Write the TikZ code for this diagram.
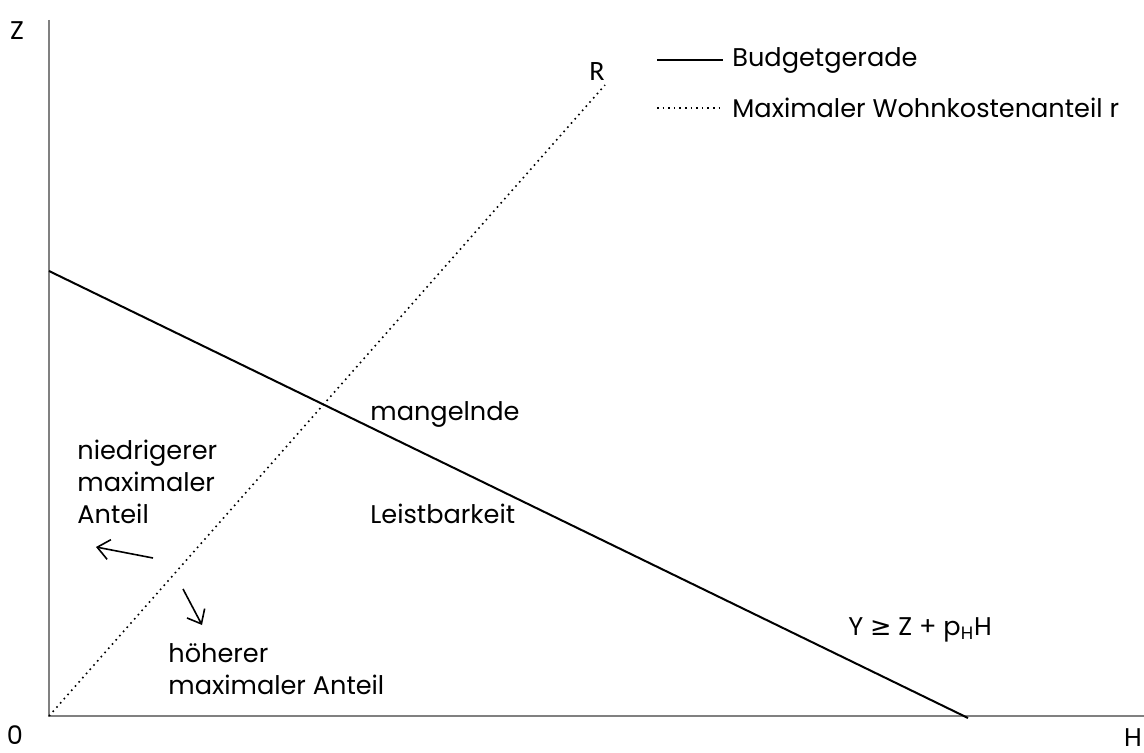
\documentclass[tikz,border=0pt]{standalone}
\usepackage{fontspec}
\setmainfont{Poppins}
\newfontfamily\calib{Carlito}
\newfontfamily\dejavu{DejaVu Sans}
\usetikzlibrary{arrows.meta}
\begin{document}
\begin{tikzpicture}[x=0.5pt,y=-0.5pt,
  lbl/.style={font=\fontsize{12.8}{16}\selectfont, inner sep=0pt},
  axis/.style={draw=gray, line width=1pt},
  budget/.style={draw=black, line width=1pt},
  share/.style={draw=black, line width=0.8pt, dotted},
  arr/.style={draw=black, line width=0.8pt, -{Straight Barb[length=6pt,width=10pt]}}]
\useasboundingbox (0,0) rectangle (1144,753);
% axes
\coordinate (O) at (49,716);
\coordinate (ytop) at (49,20);
\coordinate (xend) at (1144,716);
\draw[axis] (ytop) -- (O) -- (xend);
% lines
\coordinate (b1) at (49,271);
\coordinate (b2) at (968,718);
\draw[budget] (b1) -- (b2);
\coordinate (r1) at (49,716);
\coordinate (r2) at (605,85);
\draw[share] (r1) -- (r2);
% axis labels
\node[lbl, anchor=center] (zl) at (17,31) {Z};
\node[lbl, anchor=center] (ol) at (15,735) {0};
\node[lbl, anchor=center] (hl) at (1133,738) {H};
\node[lbl, anchor=center, font=\calib\fontsize{14}{16}\selectfont] (rl) at (597,72) {R};
% legend
\coordinate (l1a) at (657,60); \coordinate (l1b) at (723,60);
\draw[budget] (l1a) -- (l1b);
\node[lbl, anchor=west] (leg1) at (732,60) {Budgetgerade};
\coordinate (l2a) at (657,108); \coordinate (l2b) at (723,108);
\draw[share] (l2a) -- (l2b);
\node[lbl, anchor=west] (leg2) at (732,108) {Maximaler Wohnkostenanteil r};
% texts
\node[lbl, anchor=west] (mang) at (370,414) {mangelnde};
\node[lbl, anchor=west] (leist) at (370,514) {Leistbarkeit};
\node[lbl, anchor=north west, align=left] (nied) at (77,440) {niedrigerer\\maximaler\\Anteil};
\node[lbl, anchor=north west, align=left] (hoeh) at (168,643) {h\"oherer\\maximaler Anteil};
\node[lbl, anchor=west] (eq) at (848,630) {Y {\dejavu\char"2265} Z + p\textsubscript{H}H};
% arrows
\coordinate (a1s) at (153,558); \coordinate (a1e) at (96,547);
\draw[arr] (a1s) -- (a1e);
\coordinate (a2s) at (183,589); \coordinate (a2e) at (202,625);
\draw[arr] (a2s) -- (a2e);
\end{tikzpicture}
\end{document}
